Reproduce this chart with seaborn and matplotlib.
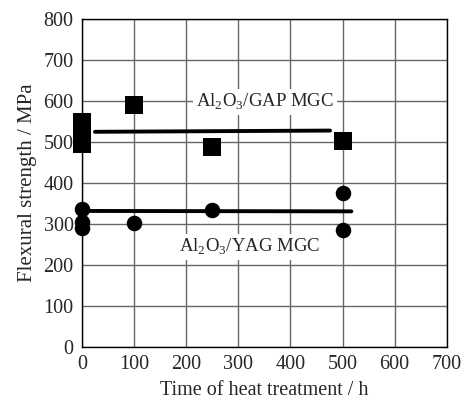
import matplotlib
matplotlib.use("Agg")
import matplotlib.pyplot as plt
import seaborn as sns
import pandas as pd
from matplotlib.ticker import MultipleLocator

# Data
gap_time = [0, 0, 0, 100, 250, 500]
gap_strength = [495, 520, 550, 590, 489, 503]
yag_time = [0, 0, 0, 100, 250, 500, 500]
yag_strength = [336, 305, 291, 303, 334, 375, 285]
gap_fit_time = [25, 476]
gap_fit_strength = [525, 528]
yag_fit_time = [0, 517]
yag_fit_strength = [332, 331]

x_ticks = [0, 100, 200, 300, 400, 500, 600, 700]
y_ticks = [0, 100, 200, 300, 400, 500, 600, 700, 800]

sns.set_style("white")
plt.rcParams['font.family'] = ['Liberation Serif', 'DejaVu Serif']
plt.rcParams['mathtext.fontset'] = 'custom'
plt.rcParams['mathtext.rm'] = 'Liberation Serif'

fig = plt.figure(figsize=(4.63, 4.05), dpi=100)
ax = fig.add_axes([0.177, 0.143, 0.788, 0.810])

gap_df = pd.DataFrame({"t": gap_time, "s": gap_strength})
yag_df = pd.DataFrame({"t": yag_time, "s": yag_strength})
gfit = pd.DataFrame({"t": gap_fit_time, "s": gap_fit_strength})
yfit = pd.DataFrame({"t": yag_fit_time, "s": yag_fit_strength})

ax.grid(True, color="#666666", linewidth=1.0, zorder=0)
ax.set_axisbelow(True)

sns.lineplot(data=gfit, x="t", y="s", color="black", linewidth=2.8, ax=ax, zorder=3)
sns.lineplot(data=yfit, x="t", y="s", color="black", linewidth=2.8, ax=ax, zorder=3)
sns.scatterplot(data=gap_df, x="t", y="s", marker="s", s=155, color="black",
                edgecolor="black", linewidth=0, ax=ax, zorder=4, clip_on=False)
sns.scatterplot(data=yag_df, x="t", y="s", marker="o", s=125, color="black",
                edgecolor="black", linewidth=0, ax=ax, zorder=4, clip_on=False)

ax.text(351, 597, r"Al$_2$O$_3$/GAP MGC", ha="center", va="center", fontsize=13.5,
        bbox=dict(facecolor="white", edgecolor="none", pad=2), zorder=2)
ax.text(322, 245, r"Al$_2$O$_3$/YAG MGC", ha="center", va="center", fontsize=13.5,
        bbox=dict(facecolor="white", edgecolor="none", pad=2), zorder=2)

ax.set_xlim(0, 700)
ax.set_ylim(0, 800)
ax.set_xticks(x_ticks)
ax.set_yticks(y_ticks)
ax.xaxis.set_minor_locator(MultipleLocator(20))
ax.yaxis.set_minor_locator(MultipleLocator(20))
ax.tick_params(which="both", direction="in", color="black", top=False, right=False)
ax.tick_params(which="major", length=6, width=1, labelsize=14.5, pad=6)
ax.tick_params(which="minor", length=4, width=1)
for sp in ax.spines.values():
    sp.set_color("black")
    sp.set_linewidth(1.0)
ax.set_xlabel("Time of heat treatment / h", fontsize=14.5, labelpad=5)
ax.set_ylabel("Flexural strength / MPa", fontsize=15, labelpad=5)

fig.savefig("out.png", dpi=100)
